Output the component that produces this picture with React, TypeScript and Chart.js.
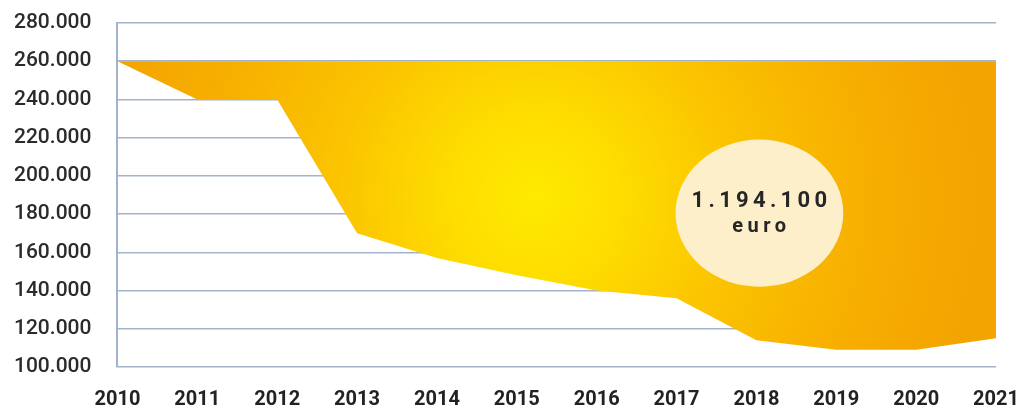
import React, { useEffect, useRef } from "react";
import { Chart, registerables } from "chart.js";

Chart.register(...registerables);

const years = ["2010", "2011", "2012", "2013", "2014", "2015", "2016", "2017", "2018", "2019", "2020", "2021"];
const ceilingValues = [260000, 260000, 260000, 260000, 260000, 260000, 260000, 260000, 260000, 260000, 260000, 260000];
const amountValues = [260000, 240000, 240000, 170000, 157000, 148000, 140000, 136000, 114000, 109000, 109000, 115000];
const yTicks = [100000, 120000, 140000, 160000, 180000, 200000, 220000, 240000, 260000, 280000];
const badgeTotal = "1.194.100";
const badgeUnit = "euro";
const badgeYear = 8;
const badgeValue = 180500;

const fmt = (v: number) => String(Math.round(v)).replace(/\B(?=(\d{3})+(?!\d))/g, ".");

const badgePlugin = {
  id: "badge",
  afterDatasetsDraw(chart: any) {
    const { ctx, scales } = chart;
    const xs = scales.x;
    const ys = scales.y;
    const cx = xs.getPixelForValue(badgeYear) + 3;
    const cy = ys.getPixelForValue(badgeValue);
    const stepX = xs.getPixelForValue(1) - xs.getPixelForValue(0);
    const rx = stepX * 1.05;
    const ry = Math.abs(ys.getPixelForValue(100000) - ys.getPixelForValue(138500));
    ctx.save();
    ctx.beginPath();
    ctx.ellipse(cx, cy, rx, ry, 0, 0, Math.PI * 2);
    ctx.fillStyle = "#fcefc9";
    ctx.fill();
    ctx.fillStyle = "#262626";
    ctx.textAlign = "center";
    ctx.textBaseline = "middle";
    ctx.font = "bold 22px Roboto";
    (ctx as any).letterSpacing = "4.3px";
    ctx.fillText(badgeTotal, cx + 2, cy - 12);
    ctx.font = "bold 20px Roboto";
    (ctx as any).letterSpacing = "4.5px";
    ctx.fillText(badgeUnit, cx + 2, cy + 14);
    ctx.restore();
  },
};

export default function App() {
  const ref = useRef<HTMLCanvasElement>(null);
  useEffect(() => {
    if (!ref.current) return;
    const chart = new Chart(ref.current, {
      type: "line",
      data: {
        labels: years,
        datasets: [
          {
            data: ceilingValues,
            borderWidth: 0,
            borderColor: "rgba(0,0,0,0)",
            pointRadius: 0,
            fill: "+1",
            backgroundColor: (c: any) => {
              const a = c.chart.chartArea;
              if (!a) return "#f8c000";
              const w = a.right - a.left;
              const h = a.bottom - a.top;
              const gx = a.left + w * 0.475;
              const gy = a.top + h * 0.51;
              const g = c.chart.ctx.createRadialGradient(gx, gy, 0, gx, gy, w * 0.5);
              g.addColorStop(0, "#ffea00");
              g.addColorStop(0.2, "#fedc00");
              g.addColorStop(0.45, "#fbc400");
              g.addColorStop(0.75, "#f7af00");
              g.addColorStop(1, "#f4a400");
              return g;
            },
          },
          {
            data: amountValues,
            borderWidth: 0,
            borderColor: "rgba(0,0,0,0)",
            pointRadius: 0,
            fill: false,
          },
        ],
      },
      options: {
        animation: false,
        responsive: true,
        maintainAspectRatio: false,
        layout: { padding: { left: 14, top: 23, right: 0, bottom: 0 } },
        plugins: { legend: { display: false }, tooltip: { enabled: false } },
        scales: {
          x: {
            grid: { display: true, color: "rgba(0,0,0,0)", drawTicks: true, tickLength: 23, tickColor: "rgba(0,0,0,0)" },
            border: { display: false },
            ticks: {
              padding: 0,
              color: "#222",
              font: { family: "Roboto", size: 20, weight: "bold", lineHeight: 0.95 },
              maxRotation: 0,
              autoSkip: false,
            },
          },
          y: {
            min: 100000,
            max: 280000,
            afterBuildTicks: (s: any) => {
              s.ticks = yTicks.map((v) => ({ value: v }));
            },
            grid: { color: "#a3b3c9", lineWidth: 1.5, drawTicks: true, tickLength: 26, tickColor: "rgba(0,0,0,0)" },
            border: { display: true, color: "#a3b3c9", width: 2 },
            ticks: {
              padding: 0,
              color: "#2b2b2b",
              font: { family: "Roboto", size: 21, weight: "500" },
              callback: (v: any) => fmt(Number(v)),
            },
          },
        },
      },
      plugins: [badgePlugin],
    });
    return () => chart.destroy();
  }, []);
  return (
    <div style={{ position: "fixed", left: 0, top: 0, width: 1019, height: 409, background: "#fff" }}>
      <canvas ref={ref} />
    </div>
  );
}
